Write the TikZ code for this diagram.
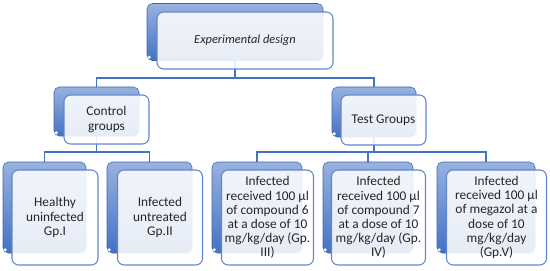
\documentclass[tikz,border=0pt]{standalone}
\usepackage{fontspec}
\setmainfont{Carlito}
\usepackage{tikz}
\usetikzlibrary{positioning,calc,backgrounds}
\definecolor{cardblue}{HTML}{4472C4}
\definecolor{cardtext}{HTML}{262626}

\begin{document}
\begin{tikzpicture}[
  x=0.75pt, y=-0.75pt,
  every node/.style={font=\fontsize{10}{10.6}\selectfont, text=cardtext},
  backcard/.style={rounded corners=4pt, top color=cardblue!55!white,
                   bottom color=cardblue, draw=cardblue!90!black, line width=0.4pt},
  frontcard/.style={draw=cardblue!85, line width=0.8pt, rounded corners=5pt,
                    fill=white, fill opacity=0.87, text opacity=1, align=center,
                    inner sep=1pt},
  link/.style={draw=cardblue, line width=1pt}
]
  \useasboundingbox (0,0) rectangle (550,271);

  % top level
  \node[backcard, minimum width=132pt, minimum height=42.75pt] (design-b) at (235,32) {};
  \node[frontcard, minimum width=132pt, minimum height=42.75pt,
        font=\fontsize{9.3}{10.6}\selectfont\itshape] (design) at (245,40.5)
       {Experimental design};

  % second level
  \node[backcard, minimum width=63.75pt, minimum height=36.75pt] (control-b) at (96.5,111.5) {};
  \node[frontcard, minimum width=63.75pt, minimum height=36.75pt] (control) at (106.5,119.5)
       {Control\\groups};
  \node[backcard, minimum width=63pt, minimum height=37.5pt] (test-b) at (374,112) {};
  \node[frontcard, minimum width=63.75pt, minimum height=37.5pt] (test) at (383.5,120)
       {Test Groups};

  % groups
  \foreach \nm/\x/\wb/\wf/\txt in {
      gpone/44.5/62.25pt/64.5pt/{Healthy\\uninfected\\Gp.I},
      gptwo/149.5/63.75pt/63.75pt/{Infected\\untreated\\Gp.II},
      gpthree/257/67.5pt/69pt/{Infected\\received 100 µl\\of compound 6\\at a dose of 10\\mg/kg/day (Gp.\\III)},
      gpfour/368/67.5pt/70.5pt/{Infected\\received 100 µl\\of compound 7\\at a dose of 10\\mg/kg/day (Gp.\\IV)},
      gpfive/486/73.5pt/75pt/{Infected\\received 100 µl\\of megazol at a\\dose of 10\\mg/kg/day\\(Gp.V)}} {
    \node[backcard, minimum width=\wb, minimum height=68.25pt] (\nm-b) at (\x,207.5) {};
    \node[frontcard, minimum width=\wf, minimum height=71.25pt] (\nm)
         at ($(\nm-b.center)+(10.5,10)$) {\txt};
  }

  % little curl on the back cards
  \foreach \nm in {design,control,test,gpone,gptwo,gpthree,gpfour,gpfive}
    \fill[white] ([shift={(2.5,-3.5)}]\nm-b.south west) circle (1.3pt);

  % connectors
  \coordinate (busa) at (0,78);
  \coordinate (busb) at (0,152);
  \begin{scope}[on background layer]
    \draw[link] (design-b.center) -- (design-b.center |- busa) -| (control-b.center);
    \draw[link] (design-b.center |- busa) -| (test-b.center);
    \draw[link] (control-b.center) -- (control-b.center |- busb) -| (gpone-b.center);
    \draw[link] (control-b.center |- busb) -| (gptwo-b.center);
    \draw[link] (test-b.center) -- (test-b.center |- busb) -| (gpthree-b.center);
    \draw[link] (test-b.center |- busb) -| (gpfour-b.center);
    \draw[link] (test-b.center |- busb) -| (gpfive-b.center);
  \end{scope}
\end{tikzpicture}
\end{document}
